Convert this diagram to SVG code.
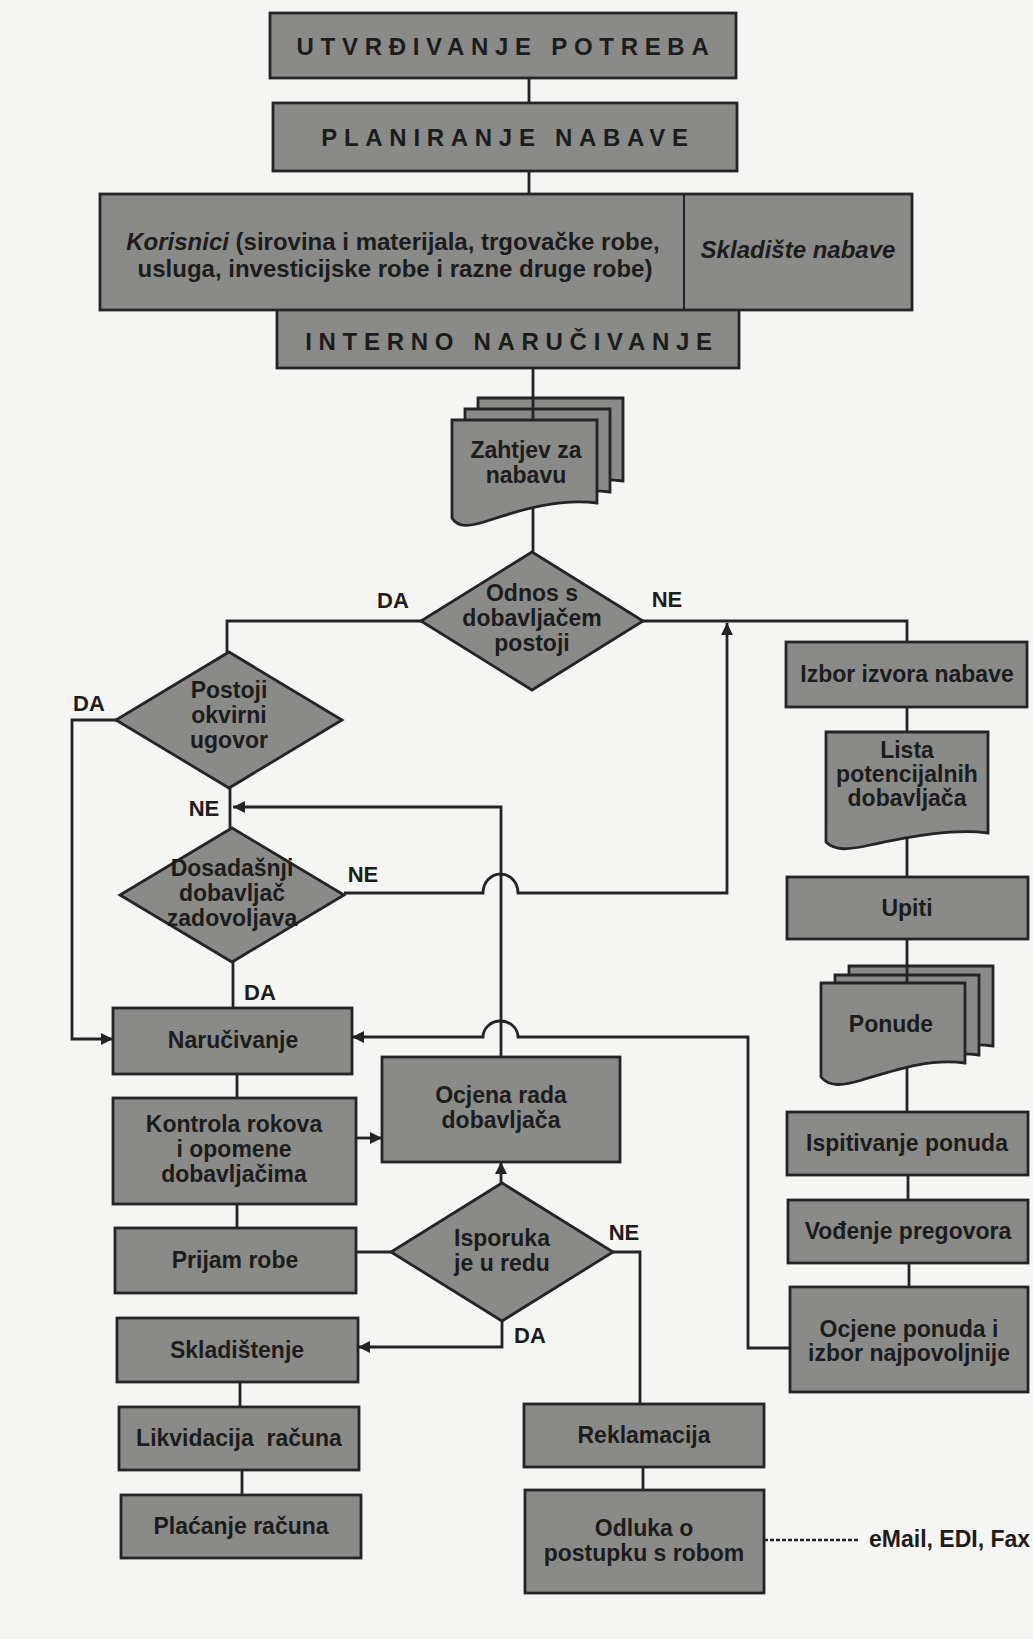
<svg xmlns="http://www.w3.org/2000/svg" width="1033" height="1639" viewBox="0 0 1033 1639">
<style>
.n{fill:#8a8a88;stroke:#242424;stroke-width:2.8}
.t{font-family:"Liberation Sans",Arial,Helvetica,sans-serif;font-weight:bold;font-size:23px;fill:#1c1c1c;text-anchor:middle}
.h{font-size:24px;letter-spacing:6.7px}
.k{font-size:24px}
.i{font-style:italic}
.l{font-size:22px}
.c{fill:none;stroke:#242424;stroke-width:2.8}
.d{fill:none;stroke:#242424;stroke-width:2.5;stroke-dasharray:4 2}
</style>
<defs>
<marker id="arr" markerUnits="userSpaceOnUse" markerWidth="13" markerHeight="13" refX="12" refY="6" orient="auto">
<path d="M0,0 L12,6 L0,12 Z" fill="#242424"/>
</marker>
</defs>
<rect x="0" y="0" width="1033" height="1639" fill="#f5f5f3"/>

<g id="utvrdivanje"><rect class="n" x="270" y="13" width="466" height="65"/><text class="t h" x="506" y="55">UTVRĐIVANJE POTREBA</text></g>
<g id="planiranje"><rect class="n" x="273" y="103" width="464" height="68"/><text class="t h" x="508" y="146">PLANIRANJE NABAVE</text></g>
<g id="interno"><rect class="n" x="277" y="306" width="462" height="62"/><text class="t h" x="512" y="350">INTERNO NARUČIVANJE</text></g>
<g id="korisnici"><rect class="n" x="100" y="194" width="812" height="116"/><line x1="684" y1="194" x2="684" y2="310" stroke="#242424" stroke-width="2"/>
<text class="t k" x="393" y="250"><tspan class="i">Korisnici</tspan> (sirovina i materijala, trgovačke robe,</text>
<text class="t k" x="395" y="277">usluga, investicijske robe i razne druge robe)</text>
<text class="t k i" x="798" y="258">Skladište nabave</text></g>

<g id="zahtjev">
<path class="n" transform="translate(26,-22)" d="M452,420 H597 V503 C560,498 520,510 490,520 C470,527 458,528 452,518 Z"/>
<path class="n" transform="translate(13,-11)" d="M452,420 H597 V503 C560,498 520,510 490,520 C470,527 458,528 452,518 Z"/>
<path class="n" d="M452,420 H597 V503 C560,498 520,510 490,520 C470,527 458,528 452,518 Z"/>
<text class="t" x="526" y="458">Zahtjev za</text><text class="t" x="526" y="483">nabavu</text></g>

<g id="odnos"><path class="n" d="M532,552 L643,621 L532,690 L421,621 Z"/>
<text class="t" x="532" y="601">Odnos s</text><text class="t" x="532" y="626">dobavljačem</text><text class="t" x="532" y="651">postoji</text></g>

<g id="postoji"><path class="n" d="M229,652 L342,720 L229,788 L116,720 Z"/>
<text class="t" x="229" y="698">Postoji</text><text class="t" x="229" y="723">okvirni</text><text class="t" x="229" y="748">ugovor</text></g>

<g id="dosadasnji"><path class="n" d="M232,828 L344,895 L232,962 L120,895 Z"/>
<text class="t" x="232" y="876">Dosadašnji</text><text class="t" x="232" y="901">dobavljač</text><text class="t" x="232" y="926">zadovoljava</text></g>

<g id="narucivanje"><rect class="n" x="113" y="1008" width="239" height="66"/><text class="t" x="233" y="1048">Naručivanje</text></g>
<g id="kontrola"><rect class="n" x="113" y="1098" width="243" height="106"/>
<text class="t" x="234" y="1132">Kontrola rokova</text><text class="t" x="234" y="1157">i opomene</text><text class="t" x="234" y="1182">dobavljačima</text></g>
<g id="ocjena-rada"><rect class="n" x="382" y="1057" width="238" height="105"/>
<text class="t" x="501" y="1103">Ocjena rada</text><text class="t" x="501" y="1128">dobavljača</text></g>
<g id="prijam"><rect class="n" x="115" y="1228" width="241" height="65"/><text class="t" x="235" y="1268">Prijam robe</text></g>
<g id="isporuka"><path class="n" d="M502,1183 L613,1252 L502,1321 L391,1252 Z"/>
<text class="t" x="502" y="1246">Isporuka</text><text class="t" x="502" y="1271">je u redu</text></g>
<g id="skladistenje"><rect class="n" x="117" y="1318" width="241" height="64"/><text class="t" x="237" y="1358">Skladištenje</text></g>
<g id="likvidacija"><rect class="n" x="119" y="1407" width="240" height="63"/><text class="t" x="239" y="1446" style="white-space:pre">Likvidacija  računa</text></g>
<g id="placanje"><rect class="n" x="121" y="1495" width="240" height="63"/><text class="t" x="241" y="1534">Plaćanje računa</text></g>
<g id="reklamacija"><rect class="n" x="524" y="1404" width="240" height="63"/><text class="t" x="644" y="1443">Reklamacija</text></g>
<g id="odluka"><rect class="n" x="525" y="1490" width="239" height="103"/>
<text class="t" x="644" y="1536">Odluka o</text><text class="t" x="644" y="1561">postupku s robom</text></g>
<g id="email"><text class="t" x="869" y="1547" style="text-anchor:start">eMail, EDI, Fax</text></g>

<g id="izbor"><rect class="n" x="786" y="642" width="241" height="65"/><text class="t" x="907" y="682">Izbor izvora nabave</text></g>
<g id="lista"><path class="n" d="M826,732 H988 V833 C950,828 905,838 870,845 C848,850 835,851 826,842 Z"/>
<text class="t" x="907" y="758">Lista</text><text class="t" x="907" y="782">potencijalnih</text><text class="t" x="907" y="806">dobavljača</text></g>
<g id="upiti"><rect class="n" x="787" y="877" width="241" height="62"/><text class="t" x="907" y="916">Upiti</text></g>
<g id="ponude">
<path class="n" transform="translate(28,-17)" d="M821,983 H965 V1063 C930,1058 895,1070 862,1080 C842,1086 829,1087 821,1077 Z"/>
<path class="n" transform="translate(14,-8)" d="M821,983 H965 V1063 C930,1058 895,1070 862,1080 C842,1086 829,1087 821,1077 Z"/>
<path class="n" d="M821,983 H965 V1063 C930,1058 895,1070 862,1080 C842,1086 829,1087 821,1077 Z"/>
<text class="t" x="891" y="1032">Ponude</text></g>
<g id="ispitivanje"><rect class="n" x="787" y="1112" width="241" height="63"/><text class="t" x="907" y="1151">Ispitivanje ponuda</text></g>
<g id="vodenje"><rect class="n" x="788" y="1200" width="240" height="63"/><text class="t" x="908" y="1239">Vođenje pregovora</text></g>
<g id="ocjene-ponuda"><rect class="n" x="790" y="1287" width="238" height="105"/>
<text class="t" x="909" y="1337">Ocjene ponuda i</text><text class="t" x="909" y="1361">izbor najpovoljnije</text></g>

<g id="connectors">
<path class="c" d="M529,78 V103"/>
<path class="c" d="M529,171 V194"/>
<path class="c" d="M533,368 V420"/>
<path class="c" d="M533,507 V552"/>
<path class="c" d="M421,621 H227 V652"/>
<path class="c" d="M643,621 H907 V642"/>
<path class="c" d="M907,707 V732"/>
<path class="c" d="M907,838 V877"/>
<path class="c" d="M907,939 V983"/>
<path class="c" d="M907,1067 V1112"/>
<path class="c" d="M908,1175 V1200"/>
<path class="c" d="M909,1263 V1287"/>
<path class="c" marker-end="url(#arr)" d="M116,720 H72 V1039 H113"/>
<path class="c" d="M230,788 V828"/>
<path class="c" marker-end="url(#arr)" d="M501,1057 V807 H233"/>
<path class="c" marker-end="url(#arr)" d="M344,893 H483 A17.5,19 0 0 1 518,893 H727 V623"/>
<path class="c" marker-end="url(#arr)" d="M790,1348 H748 V1037 H518 A17.5,16 0 0 0 483,1037 H352"/>
<path class="c" d="M233,962 V1008"/>
<path class="c" d="M237,1074 V1098"/>
<path class="c" marker-end="url(#arr)" d="M356,1138 H382"/>
<path class="c" d="M237,1204 V1228"/>
<path class="c" marker-end="url(#arr)" d="M501,1183 V1162"/>
<path class="c" d="M391,1252 H356"/>
<path class="c" d="M613,1252 H640 V1404"/>
<path class="c" marker-end="url(#arr)" d="M502,1321 V1347 H358"/>
<path class="c" d="M240,1382 V1407"/>
<path class="c" d="M242,1470 V1495"/>
<path class="c" d="M643,1467 V1490"/>
<path class="d" d="M764,1540 H860"/>
</g>

<g id="labels">
<text class="t l" x="393" y="608">DA</text>
<text class="t l" x="667" y="607">NE</text>
<text class="t l" x="89" y="711">DA</text>
<text class="t l" x="204" y="816">NE</text>
<text class="t l" x="363" y="882">NE</text>
<text class="t l" x="260" y="1000">DA</text>
<text class="t l" x="624" y="1240">NE</text>
<text class="t l" x="530" y="1343">DA</text>
</g>
</svg>
